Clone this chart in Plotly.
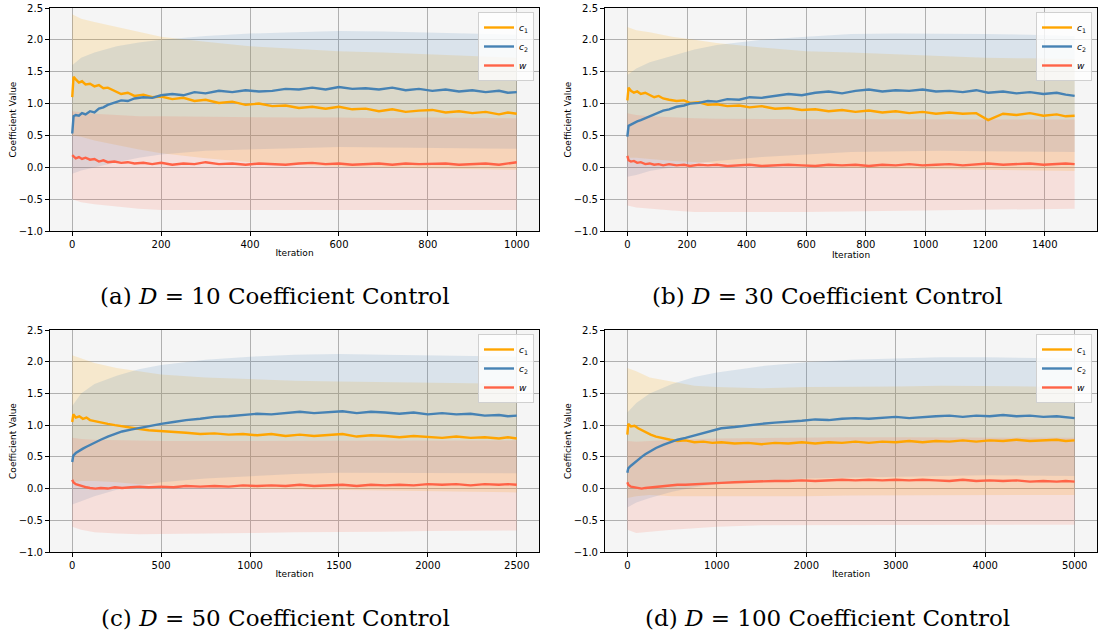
import plotly.graph_objects as go

# ---------------- data ----------------
# (a) D = 10
x_a = [0, 3, 8, 15, 22, 30, 40, 50, 60, 70, 80, 95, 110, 125, 140, 160, 180, 200, 225, 250, 275, 300, 330, 360,
       390, 420, 450, 480, 510, 540, 570, 600, 630, 660, 690, 720, 750, 780, 810, 840, 870, 900, 930, 960, 980, 1000]
c1_a = [1.10, 1.42, 1.38, 1.33, 1.35, 1.30, 1.31, 1.27, 1.29, 1.24, 1.25, 1.20, 1.15, 1.17, 1.12, 1.14, 1.10, 1.11,
        1.07, 1.09, 1.04, 1.06, 1.01, 1.03, 0.98, 1.00, 0.96, 0.97, 0.93, 0.95, 0.92, 0.95, 0.91, 0.92, 0.88, 0.91,
        0.87, 0.89, 0.90, 0.86, 0.88, 0.85, 0.87, 0.83, 0.86, 0.84]
c2_a = [0.53, 0.80, 0.82, 0.81, 0.85, 0.83, 0.88, 0.86, 0.92, 0.94, 0.98, 1.01, 1.05, 1.04, 1.08, 1.10, 1.09, 1.13,
        1.15, 1.13, 1.18, 1.16, 1.20, 1.18, 1.21, 1.19, 1.20, 1.23, 1.22, 1.25, 1.22, 1.26, 1.23, 1.24, 1.22, 1.25,
        1.21, 1.23, 1.20, 1.22, 1.19, 1.21, 1.18, 1.20, 1.17, 1.18]
w_a = [0.19, 0.17, 0.14, 0.16, 0.13, 0.15, 0.12, 0.13, 0.09, 0.11, 0.08, 0.09, 0.07, 0.08, 0.06, 0.07, 0.05, 0.07,
       0.04, 0.06, 0.05, 0.08, 0.05, 0.06, 0.04, 0.06, 0.05, 0.04, 0.06, 0.07, 0.05, 0.06, 0.04, 0.05, 0.06, 0.04,
       0.06, 0.05, 0.05, 0.06, 0.04, 0.05, 0.06, 0.04, 0.06, 0.08]
bx_a = [0, 20, 50, 100, 150, 200, 300, 400, 500, 600, 700, 800, 900, 1000]
c1_up_a = [2.40, 2.33, 2.28, 2.20, 2.12, 2.05, 1.97, 1.90, 1.86, 1.82, 1.80, 1.77, 1.74, 1.72]
c1_lo_a = [0.50, 0.48, 0.42, 0.35, 0.28, 0.22, 0.14, 0.08, 0.04, 0.01, 0.00, -0.02, -0.03, -0.04]
c2_up_a = [1.60, 1.72, 1.80, 1.90, 1.96, 2.00, 2.06, 2.10, 2.12, 2.14, 2.13, 2.11, 2.10, 2.08]
c2_lo_a = [-0.10, -0.05, 0.00, 0.08, 0.15, 0.20, 0.26, 0.28, 0.30, 0.32, 0.32, 0.31, 0.30, 0.29]
w_up_a = [0.88, 0.86, 0.84, 0.82, 0.80, 0.80, 0.79, 0.78, 0.78, 0.78, 0.77, 0.78, 0.77, 0.77]
w_lo_a = [-0.50, -0.55, -0.58, -0.62, -0.65, -0.67, -0.68, -0.68, -0.68, -0.68, -0.68, -0.67, -0.67, -0.67]

# (b) D = 30
x_b = [0, 4, 12, 22, 33, 45, 60, 75, 90, 105, 120, 140, 165, 190, 210, 240, 270, 300, 335, 375, 410, 450, 495, 540,
       585, 630, 675, 720, 765, 810, 855, 900, 945, 990, 1035, 1080, 1125, 1170, 1210, 1260, 1305, 1350, 1395, 1440,
       1470, 1500]
c1_b = [1.05, 1.25, 1.20, 1.17, 1.19, 1.15, 1.17, 1.13, 1.10, 1.12, 1.08, 1.06, 1.04, 1.05, 1.01, 1.02, 0.98, 0.99,
        0.96, 0.97, 0.94, 0.96, 0.92, 0.93, 0.90, 0.91, 0.88, 0.90, 0.87, 0.89, 0.86, 0.88, 0.85, 0.87, 0.84, 0.86,
        0.84, 0.85, 0.74, 0.84, 0.82, 0.85, 0.81, 0.83, 0.80, 0.81]
c2_b = [0.48, 0.65, 0.67, 0.70, 0.72, 0.74, 0.77, 0.81, 0.84, 0.86, 0.89, 0.91, 0.95, 0.97, 1.00, 1.01, 1.04, 1.03,
        1.07, 1.06, 1.10, 1.09, 1.12, 1.15, 1.13, 1.17, 1.19, 1.16, 1.20, 1.22, 1.19, 1.21, 1.20, 1.22, 1.19, 1.20,
        1.18, 1.21, 1.17, 1.19, 1.16, 1.18, 1.15, 1.17, 1.14, 1.12]
w_b = [0.18, 0.11, 0.09, 0.10, 0.07, 0.08, 0.05, 0.06, 0.04, 0.05, 0.03, 0.05, 0.03, 0.04, 0.02, 0.04, 0.03, 0.04,
       0.02, 0.03, 0.04, 0.02, 0.03, 0.04, 0.03, 0.02, 0.04, 0.03, 0.04, 0.02, 0.04, 0.03, 0.05, 0.03, 0.04, 0.05,
       0.03, 0.05, 0.06, 0.04, 0.05, 0.06, 0.04, 0.05, 0.06, 0.05]
bx_b = [0, 30, 75, 150, 225, 300, 450, 600, 750, 900, 1050, 1200, 1350, 1500]
c1_up_b = [2.20, 2.15, 2.12, 2.05, 2.00, 1.95, 1.88, 1.82, 1.80, 1.77, 1.74, 1.72, 1.71, 1.70]
c1_lo_b = [0.15, 0.15, 0.13, 0.10, 0.08, 0.06, 0.03, 0.00, -0.02, -0.03, -0.04, -0.05, -0.05, -0.06]
c2_up_b = [1.45, 1.55, 1.65, 1.75, 1.85, 1.92, 2.00, 2.05, 2.09, 2.10, 2.10, 2.09, 2.08, 2.06]
c2_lo_b = [-0.15, -0.12, -0.06, 0.00, 0.06, 0.10, 0.16, 0.20, 0.24, 0.25, 0.26, 0.25, 0.24, 0.24]
w_up_b = [0.85, 0.82, 0.80, 0.78, 0.77, 0.76, 0.76, 0.76, 0.76, 0.75, 0.75, 0.75, 0.75, 0.75]
w_lo_b = [-0.60, -0.63, -0.65, -0.68, -0.70, -0.70, -0.70, -0.70, -0.69, -0.68, -0.67, -0.67, -0.66, -0.65]

# (c) D = 50
x_c = [0, 6, 20, 40, 60, 80, 100, 130, 160, 200, 240, 280, 330, 380, 430, 500, 570, 640, 720, 800, 880, 960, 1040,
       1120, 1200, 1280, 1360, 1440, 1520, 1600, 1680, 1760, 1840, 1920, 2000, 2080, 2160, 2240, 2320, 2400, 2450, 2500]
c1_c = [1.05, 1.17, 1.12, 1.14, 1.10, 1.12, 1.08, 1.06, 1.04, 1.02, 1.00, 0.98, 0.96, 0.94, 0.92, 0.91, 0.89, 0.88,
        0.86, 0.87, 0.85, 0.86, 0.84, 0.86, 0.83, 0.85, 0.83, 0.84, 0.86, 0.82, 0.84, 0.83, 0.81, 0.83, 0.82, 0.80,
        0.82, 0.80, 0.81, 0.79, 0.81, 0.79]
c2_c = [0.42, 0.52, 0.56, 0.60, 0.63, 0.66, 0.69, 0.73, 0.77, 0.82, 0.86, 0.90, 0.93, 0.96, 0.99, 1.02, 1.05, 1.08,
        1.10, 1.13, 1.14, 1.16, 1.18, 1.17, 1.19, 1.21, 1.19, 1.20, 1.22, 1.19, 1.21, 1.20, 1.18, 1.20, 1.17, 1.19,
        1.17, 1.18, 1.15, 1.16, 1.14, 1.15]
w_c = [0.14, 0.10, 0.07, 0.05, 0.03, 0.02, 0.01, 0.00, 0.01, 0.00, 0.02, 0.01, 0.02, 0.03, 0.02, 0.03, 0.02, 0.04,
       0.03, 0.04, 0.03, 0.05, 0.04, 0.05, 0.04, 0.06, 0.04, 0.05, 0.06, 0.04, 0.06, 0.05, 0.06, 0.05, 0.07, 0.06,
       0.07, 0.05, 0.07, 0.06, 0.07, 0.06]
bx_c = [0, 50, 125, 250, 375, 500, 750, 1000, 1250, 1500, 1750, 2000, 2250, 2500]
c1_up_c = [2.10, 2.05, 1.98, 1.90, 1.85, 1.80, 1.75, 1.72, 1.70, 1.69, 1.68, 1.67, 1.66, 1.65]
c1_lo_c = [0.10, 0.12, 0.12, 0.10, 0.07, 0.05, 0.02, 0.00, -0.02, -0.03, -0.04, -0.05, -0.05, -0.06]
c2_up_c = [1.30, 1.50, 1.65, 1.78, 1.88, 1.95, 2.03, 2.08, 2.11, 2.12, 2.11, 2.10, 2.09, 2.08]
c2_lo_c = [-0.25, -0.20, -0.12, -0.02, 0.05, 0.10, 0.16, 0.20, 0.23, 0.25, 0.25, 0.25, 0.24, 0.24]
w_up_c = [0.80, 0.78, 0.77, 0.76, 0.75, 0.75, 0.75, 0.75, 0.76, 0.76, 0.76, 0.76, 0.76, 0.76]
w_lo_c = [-0.60, -0.65, -0.69, -0.71, -0.72, -0.72, -0.71, -0.70, -0.69, -0.68, -0.68, -0.67, -0.66, -0.66]

# (d) D = 100
x_d = [0, 10, 40, 80, 120, 160, 200, 260, 320, 400, 480, 560, 650, 750, 850, 950, 1050, 1200, 1350, 1500, 1650,
       1800, 1950, 2100, 2250, 2400, 2550, 2700, 2850, 3000, 3150, 3300, 3450, 3600, 3750, 3900, 4050, 4200, 4350,
       4500, 4650, 4800, 4900, 5000]
c1_d = [0.85, 1.02, 0.98, 0.99, 0.95, 0.92, 0.90, 0.85, 0.82, 0.79, 0.77, 0.75, 0.76, 0.73, 0.74, 0.72, 0.73, 0.71,
        0.72, 0.70, 0.72, 0.71, 0.73, 0.71, 0.73, 0.72, 0.74, 0.72, 0.74, 0.73, 0.75, 0.73, 0.75, 0.74, 0.76, 0.74,
        0.76, 0.75, 0.77, 0.75, 0.76, 0.77, 0.75, 0.76]
c2_d = [0.25, 0.32, 0.36, 0.41, 0.46, 0.50, 0.54, 0.59, 0.64, 0.69, 0.73, 0.77, 0.80, 0.84, 0.87, 0.91, 0.95, 0.97,
        1.00, 1.02, 1.04, 1.05, 1.07, 1.09, 1.08, 1.10, 1.11, 1.10, 1.12, 1.13, 1.11, 1.13, 1.14, 1.15, 1.13, 1.15,
        1.14, 1.16, 1.14, 1.15, 1.13, 1.14, 1.12, 1.11]
w_d = [0.10, 0.06, 0.03, 0.02, 0.01, 0.00, 0.01, 0.02, 0.03, 0.04, 0.05, 0.06, 0.06, 0.07, 0.08, 0.09, 0.09, 0.10,
       0.11, 0.11, 0.12, 0.12, 0.13, 0.12, 0.13, 0.14, 0.13, 0.14, 0.13, 0.14, 0.13, 0.14, 0.13, 0.12, 0.14, 0.12,
       0.13, 0.12, 0.13, 0.11, 0.12, 0.11, 0.12, 0.11]
bx_d = [0, 100, 250, 500, 750, 1000, 1500, 2000, 2500, 3000, 3500, 4000, 4500, 5000]
c1_up_d = [1.90, 1.85, 1.75, 1.68, 1.62, 1.60, 1.58, 1.60, 1.60, 1.61, 1.62, 1.62, 1.61, 1.60]
c1_lo_d = [-0.15, -0.12, -0.10, -0.12, -0.13, -0.13, -0.12, -0.12, -0.11, -0.11, -0.10, -0.10, -0.10, -0.10]
c2_up_d = [1.20, 1.35, 1.50, 1.65, 1.76, 1.83, 1.93, 1.99, 2.03, 2.05, 2.07, 2.07, 2.06, 2.05]
c2_lo_d = [-0.30, -0.22, -0.15, -0.05, 0.02, 0.07, 0.12, 0.16, 0.18, 0.19, 0.20, 0.21, 0.21, 0.20]
w_up_d = [0.75, 0.74, 0.75, 0.77, 0.78, 0.79, 0.80, 0.81, 0.81, 0.81, 0.81, 0.81, 0.80, 0.80]
w_lo_d = [-0.65, -0.70, -0.68, -0.65, -0.62, -0.60, -0.58, -0.57, -0.57, -0.57, -0.57, -0.57, -0.57, -0.57]

captions = ["(a) <i>D</i> = 10 Coefficient Control", "(b) <i>D</i> = 30 Coefficient Control",
            "(c) <i>D</i> = 50 Coefficient Control", "(d) <i>D</i> = 100 Coefficient Control"]
x_ranges = [[-50, 1050], [-75, 1575], [-125, 2625], [-250, 5250]]
x_tickvals = [[0, 200, 400, 600, 800, 1000],
              [0, 200, 400, 600, 800, 1000, 1200, 1400],
              [0, 500, 1000, 1500, 2000, 2500],
              [0, 1000, 2000, 3000, 4000, 5000]]
y_tickvals = [-1.0, -0.5, 0.0, 0.5, 1.0, 1.5, 2.0, 2.5]
y_ticktext = ["\u22121.0", "\u22120.5", "0.0", "0.5", "1.0", "1.5", "2.0", "2.5"]
series_names = ["<i>c</i><sub>1</sub>", "<i>c</i><sub>2</sub>", "<i>w</i>"]

panels = [
    (x_a, [c1_a, c2_a, w_a], bx_a, [(c1_up_a, c1_lo_a), (c2_up_a, c2_lo_a), (w_up_a, w_lo_a)]),
    (x_b, [c1_b, c2_b, w_b], bx_b, [(c1_up_b, c1_lo_b), (c2_up_b, c2_lo_b), (w_up_b, w_lo_b)]),
    (x_c, [c1_c, c2_c, w_c], bx_c, [(c1_up_c, c1_lo_c), (c2_up_c, c2_lo_c), (w_up_c, w_lo_c)]),
    (x_d, [c1_d, c2_d, w_d], bx_d, [(c1_up_d, c1_lo_d), (c2_up_d, c2_lo_d), (w_up_d, w_lo_d)]),
]

# ---------------- styling ----------------
W, H = 1099, 635
line_colors = ["#FFA500", "#4682B4", "#FF6347"]
fill_colors = ["rgba(255,165,0,0.16)", "rgba(70,130,180,0.15)", "rgba(255,99,71,0.15)"]
# pixel positions of the plot areas, legends and captions
x_px = [(50, 539), (605, 1097), (50, 539), (605, 1097)]
y_px = [(8, 231), (8, 231), (330, 552), (330, 552)]
cap_pos = [(275, 296), (827, 296), (275, 618), (827, 618)]


def fx(px):
    return px / W


def fy(py):
    return 1 - py / H


fig = go.Figure()
layout = dict(width=W, height=H, margin=dict(l=0, r=0, t=0, b=0, autoexpand=False),
              paper_bgcolor="white", plot_bgcolor="#f5f5f5",
              font=dict(family="DejaVu Sans", color="black"),
              hovermode=False, annotations=[])

for p, (xs, lines, bx, bands) in enumerate(panels):
    sfx = "" if p == 0 else str(p + 1)
    xa, ya = "x" + sfx, "y" + sfx
    leg = "legend" + sfx
    # bands
    for k, (up, lo) in enumerate(bands):
        fig.add_trace(go.Scatter(x=list(bx) + list(bx)[::-1], y=list(up) + list(lo)[::-1],
                                 fill="toself", fillcolor=fill_colors[k], line=dict(width=0),
                                 mode="lines", hoverinfo="skip", showlegend=False,
                                 xaxis=xa, yaxis=ya))
    # mean lines
    for k, ys in enumerate(lines):
        fig.add_trace(go.Scatter(x=xs, y=ys, mode="lines", name=series_names[k],
                                 line=dict(color=line_colors[k], width=2.4),
                                 xaxis=xa, yaxis=ya, legend=leg, showlegend=True))
    x0, x1 = x_px[p]
    yt, yb = y_px[p]
    axis_common = dict(showline=True, mirror=True, linecolor="black", linewidth=1,
                       ticks="outside", ticklen=4, tickwidth=1, tickcolor="black", automargin=False,
                       showgrid=True, gridcolor="#b0b0b0", gridwidth=1, zeroline=False,
                       tickfont=dict(size=10, family="DejaVu Sans", color="black"))
    layout["xaxis" + sfx] = dict(axis_common, domain=[fx(x0), fx(x1)], anchor=ya,
                                 range=x_ranges[p], tickvals=x_tickvals[p],
                                 title=dict(text="Iteration", font=dict(size=9), standoff=0))
    layout["yaxis" + sfx] = dict(axis_common, domain=[fy(yb), fy(yt)], anchor=xa,
                                 range=[-1.0, 2.5], tickvals=y_tickvals, ticktext=y_ticktext,
                                 title=dict(text="Coefficient Value", font=dict(size=9), standoff=0))
    layout[leg] = dict(x=fx(x1 - 5), y=fy(yt + 4), xanchor="right", yanchor="top",
                       xref="paper", yref="paper",
                       bgcolor="rgba(255,255,255,0.8)", bordercolor="#d0d0d0", borderwidth=1,
                       font=dict(size=9, family="DejaVu Sans"), itemwidth=30, tracegroupgap=0)
    cx, cy = cap_pos[p]
    layout["annotations"].append(dict(text=captions[p], x=fx(cx), y=fy(cy), xref="paper", yref="paper",
                                      showarrow=False, xanchor="center", yanchor="middle",
                                      font=dict(family="DejaVu Serif", size=23, color="black")))

fig.update_layout(**layout)
# remove the browser's default 8 px body margin so the figure sits at the window's top-left corner
fig.write_html("out.html", config={"displayModeBar": False},
               post_script="document.body.style.margin='0px';")
